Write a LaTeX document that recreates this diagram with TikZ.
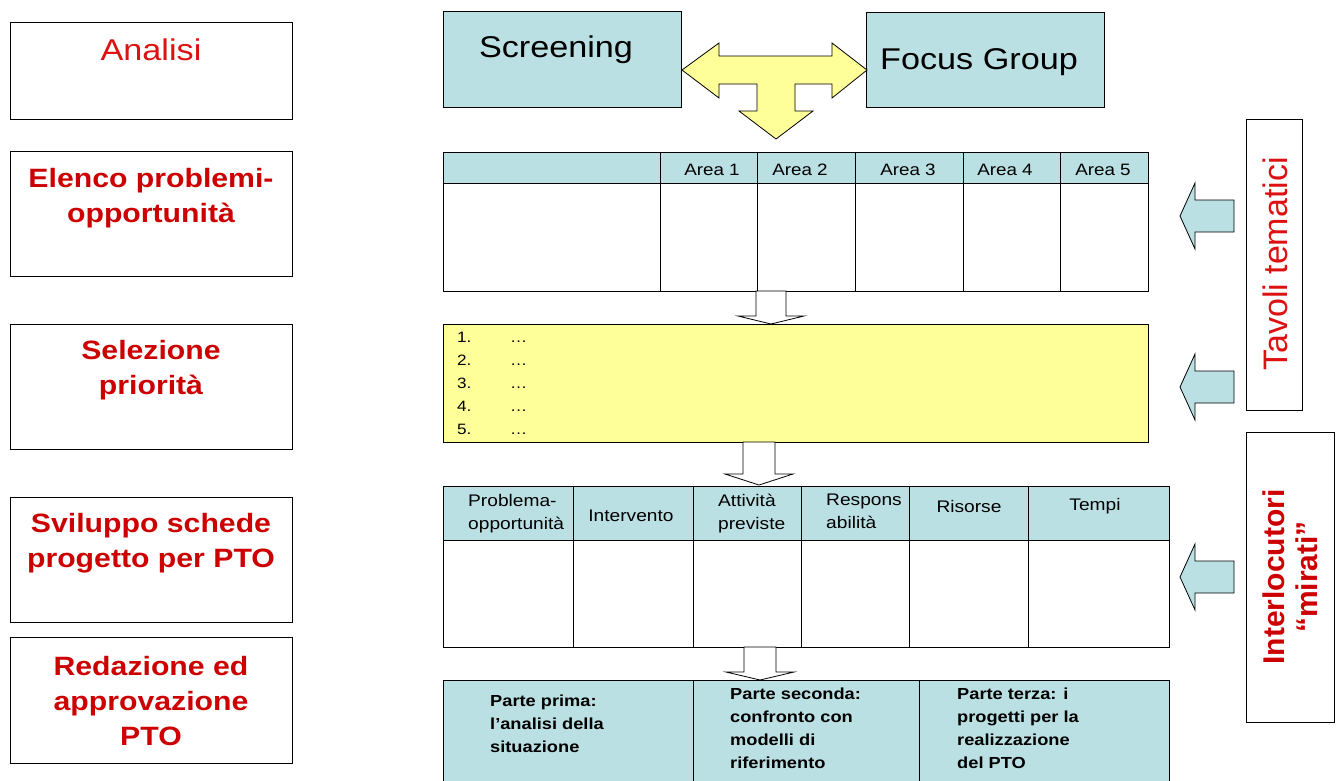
\documentclass[tikz,border=0pt]{standalone}
\usepackage{fontspec}
\setmainfont[FakeStretch=1.14]{Liberation Sans}
\newfontfamily\vfont{Liberation Sans}
\usetikzlibrary{fit}
\definecolor{lblue}{HTML}{BBE0E3}
\definecolor{lyel}{HTML}{FFFF99}
\definecolor{dred}{HTML}{CC0000}
\definecolor{redA}{HTML}{DD1111}
\tikzset{
  lbox/.style={draw=black, line width=1pt, inner sep=0pt, outer sep=0pt, fill=white},
  bluebox/.style={lbox, fill=lblue},
  yelbox/.style={lbox, fill=lyel},
  atxt/.style={text=redA, font=\fontsize{30}{35}\selectfont, inner sep=0pt},
  btxt/.style={text=dred, font=\fontsize{26.5}{35}\selectfont\bfseries, align=center, inner sep=0pt},
  big/.style={font=\fontsize{30}{35}\selectfont, inner sep=0pt},
  htxt/.style={font=\fontsize{16.5}{23}\selectfont, inner sep=0pt},
  kltxt/.style={font=\fontsize{16.8}{23}\selectfont, inner sep=0pt},
  hltxt/.style={kltxt, align=left, anchor=north west},
  ptxt/.style={font=\fontsize{16}{23}\selectfont\bfseries, align=left, inner sep=0pt, anchor=north west},
  ltxt/.style={font=\fontsize{15}{18}\selectfont, inner sep=0pt, anchor=base west},
  warrow/.style={draw=black, line width=0.8pt, fill=white, line join=miter},
  yarrow/.style={draw=black, line width=0.8pt, fill=lyel, line join=miter},
  barrow/.style={draw=black, line width=0.8pt, fill=lblue, line join=miter},
}
\newcommand\dnarrow[6]{% cx, ytop, yhead, ytip, halfshaft, halfhead
  \draw[warrow] ({#1-#5},#2) -- ({#1+#5},#2) -- ({#1+#5},#3) -- ({#1+#6},#3) -- (#1,#4) -- ({#1-#6},#3) -- ({#1-#5},#3) -- cycle;}
\newcommand\lfarrow[1]{% cy
  \draw[barrow] (1180,#1) -- (1195,{#1-33}) -- (1195,{#1-16}) -- (1234,{#1-16}) -- (1234,{#1+16}) -- (1195,{#1+16}) -- (1195,{#1+33}) -- cycle;}
\begin{document}
\begin{tikzpicture}[x=1pt,y=-1pt]
\useasboundingbox (0,0) rectangle (1340,780);
\fill[white] (0,0) rectangle (1340,780);

% left column
\node[lbox, fit={(10,22) (292,119)}] (analisi) {};
\node[lbox, fit={(10,151) (292,276)}] (elenco) {};
\node[lbox, fit={(10,324) (292,449)}] (selezione) {};
\node[lbox, fit={(10,497) (292,622)}] (sviluppo) {};
\node[lbox, fit={(10,637) (292,763)}] (redazione) {};
\node[atxt] (analisiT) at (151,50) {Analisi};
\node[btxt] (elencoT) at (151,198) {Elenco problemi-\\opportunità};
\node[btxt] (selezioneT) at (151,370) {Selezione\\priorità};
\node[btxt] (svilupposT) at (151,543) {Sviluppo schede\\progetto per PTO};
\node[btxt] (redazioneT) at (151,701) {Redazione ed\\approvazione\\PTO};

% top boxes
\node[bluebox, fit={(443,11) (681,107)}] (screen) {};
\node[bluebox, fit={(866,12) (1104,107)}] (focus) {};
\node[big] (screenT) at (556,50) {Screening};
\node[big] (focusT) at (979,62) {Focus Group};

% T arrow
\draw[yarrow] (682,70) -- (719,43) -- (719,56) -- (832,56) -- (832,43) -- (867,70) -- (832,98) -- (832,84)
  -- (795,84) -- (795,111) -- (813,111) -- (776,139) -- (739,111) -- (757,111) -- (757,84) -- (719,84)
  -- (719,98) -- cycle;

% table 1
\node[bluebox, fit={(443,152) (660,183)}] (h0) {};
\node[bluebox, fit={(660,152) (757,183)}] (h1) {};
\node[bluebox, fit={(757,152) (855,183)}] (h2) {};
\node[bluebox, fit={(855,152) (963,183)}] (h3) {};
\node[bluebox, fit={(963,152) (1060,183)}] (h4) {};
\node[bluebox, fit={(1060,152) (1148,183)}] (h5) {};
\node[lbox, fit={(443,183) (660,291)}] (b0) {};
\node[lbox, fit={(660,183) (757,291)}] (b1) {};
\node[lbox, fit={(757,183) (855,291)}] (b2) {};
\node[lbox, fit={(855,183) (963,291)}] (b3) {};
\node[lbox, fit={(963,183) (1060,291)}] (b4) {};
\node[lbox, fit={(1060,183) (1148,291)}] (b5) {};
\node[htxt] (a1) at (712,170) {Area 1};
\node[htxt] (a2) at (800,170) {Area 2};
\node[htxt] (a3) at (908,170) {Area 3};
\node[htxt] (a4) at (1005,170) {Area 4};
\node[htxt] (a5) at (1103,170) {Area 5};

% list box
\node[yelbox, fit={(443,324) (1148,442)}] (lista) {};
\foreach \i/\y in {1/342,2/365,3/388,4/411,5/434}{
  \node[ltxt] (n\i) at (457,\y) {\i.};
  \node[ltxt] (e\i) at (510,\y) {…};
}

% table 2
\node[bluebox, fit={(443,486) (573,540)}] (k0) {};
\node[bluebox, fit={(573,486) (693,540)}] (k1) {};
\node[bluebox, fit={(693,486) (801,540)}] (k2) {};
\node[bluebox, fit={(801,486) (909,540)}] (k3) {};
\node[bluebox, fit={(909,486) (1028,540)}] (k4) {};
\node[bluebox, fit={(1028,486) (1169,540)}] (k5) {};
\node[lbox, fit={(443,540) (573,647)}] (c0) {};
\node[lbox, fit={(573,540) (693,647)}] (c1) {};
\node[lbox, fit={(693,540) (801,647)}] (c2) {};
\node[lbox, fit={(801,540) (909,647)}] (c3) {};
\node[lbox, fit={(909,540) (1028,647)}] (c4) {};
\node[lbox, fit={(1028,540) (1169,647)}] (c5) {};
\node[hltxt] (t0) at (468,494) {Problema-\\opportunità};
\node[kltxt] (t1) at (631,516) {Intervento};
\node[hltxt] (t2) at (718,494) {Attività\\previste};
\node[hltxt] (t3) at (826,494) {Respons\\abilità};
\node[kltxt] (t4) at (969,506) {Risorse};
\node[kltxt] (t5) at (1095,506) {Tempi};

% bottom table
\node[bluebox, fit={(443,680) (693,792)}] (p1) {};
\node[bluebox, fit={(693,680) (919,792)}] (p2) {};
\node[bluebox, fit={(919,680) (1169,792)}] (p3) {};
\node[ptxt] (p1T) at (490,695) {Parte prima:\\l’analisi della\\situazione};
\node[ptxt] (p2T) at (730,688) {Parte seconda:\\confronto con\\modelli di\\riferimento};
\node[ptxt] (p3T) at (957,688) {Parte terza: i\\progetti per la\\realizzazione\\del PTO};

% down arrows
\dnarrow{771}{291}{316}{324}{15}{33}
\dnarrow{759}{442}{474}{485}{16}{34}
\dnarrow{760}{647}{672}{680}{16}{34}

% right side
\node[lbox, fit={(1246,119) (1302,410)}] (tavoli) {};
\node[text=redA, font=\vfont\fontsize{34}{38}\selectfont, rotate=90, inner sep=0pt] (tavoliT) at (1275,264) {Tavoli tematici};
\node[lbox, fit={(1246,432) (1334,722)}] (interl) {};
\node[text=dred, font=\vfont\fontsize{30}{33}\selectfont\bfseries, rotate=90, align=center, inner sep=0pt] (interlT) at (1290,577) {Interlocutori\\“mirati”};
\lfarrow{216}
\lfarrow{387}
\lfarrow{577}
\end{tikzpicture}
\end{document}
